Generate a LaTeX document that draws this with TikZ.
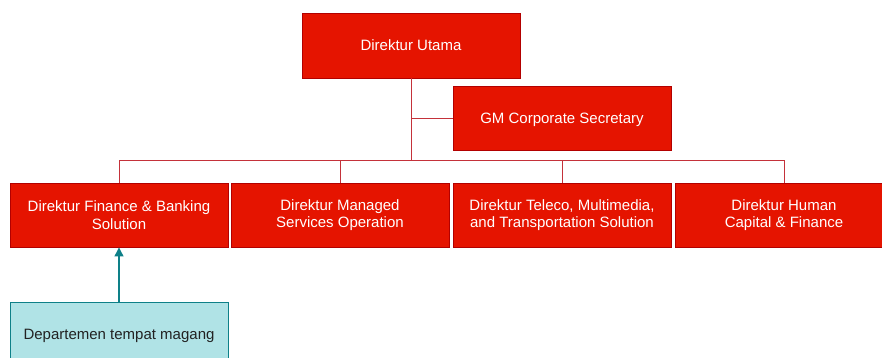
\documentclass[tikz,border=0pt]{standalone}
\usepackage{fontspec}
\setmainfont{Liberation Sans}
\usetikzlibrary{arrows.meta}
\definecolor{redfill}{HTML}{E51400}
\definecolor{redline}{HTML}{B20000}
\definecolor{conn}{HTML}{C4323A}
\definecolor{cyanfill}{HTML}{B0E3E6}
\definecolor{cyanline}{HTML}{0E8088}
\definecolor{darktext}{HTML}{222222}
\tikzset{
  redbox/.style={draw=redline, fill=redfill, line width=0.9pt, minimum width=218pt, minimum height=64pt,
    inner sep=0pt, text=white, align=center, font=\fontsize{15}{17.5}\selectfont},
  cyanbox/.style={draw=cyanline, fill=cyanfill, line width=0.9pt, minimum width=218pt, minimum height=64pt,
    inner sep=0pt, text=darktext, align=center, font=\fontsize{15}{17.5}\selectfont},
  connline/.style={draw=conn, line width=0.9pt},
  arrowline/.style={draw=cyanline, line width=1.2pt, -{Triangle[width=9pt,length=9pt]}}
}
\begin{document}
\begin{tikzpicture}[x=1pt,y=-1pt]
\useasboundingbox (0,0) rectangle (882,358);
\begin{scope}
\clip (0,0) rectangle (882,358);
\node[redbox, minimum height=65pt] (utama) at (411,45.5) {Direktur Utama};
\node[redbox, text depth=0pt] (gm) at (562,118) {GM Corporate Secretary};
\node[redbox] (d1) at (119,215) {Direktur Finance \& Banking\\Solution};
\node[redbox] (d2) at (340,215) {Direktur Managed\\Services Operation};
\node[redbox] (d3) at (562,215) {Direktur Teleco, Multimedia,\\and Transportation Solution};
\node[redbox] (d4) at (784,215) {Direktur Human\\Capital \& Finance};
\node[cyanbox, text depth=0pt] (dept) at (119,334) {Departemen tempat magang};
\coordinate (bus) at (411,160);
\draw[connline] (utama.south) |- (gm.west);
\draw[connline] (utama.south) -- (bus);
\draw[connline] (bus) -| (d1.north);
\draw[connline] (bus) -| (d2.north);
\draw[connline] (bus) -| (d3.north);
\draw[connline] (bus) -| (d4.north);
\draw[arrowline] (dept.north) -- (d1.south);
\end{scope}
\end{tikzpicture}
\end{document}
